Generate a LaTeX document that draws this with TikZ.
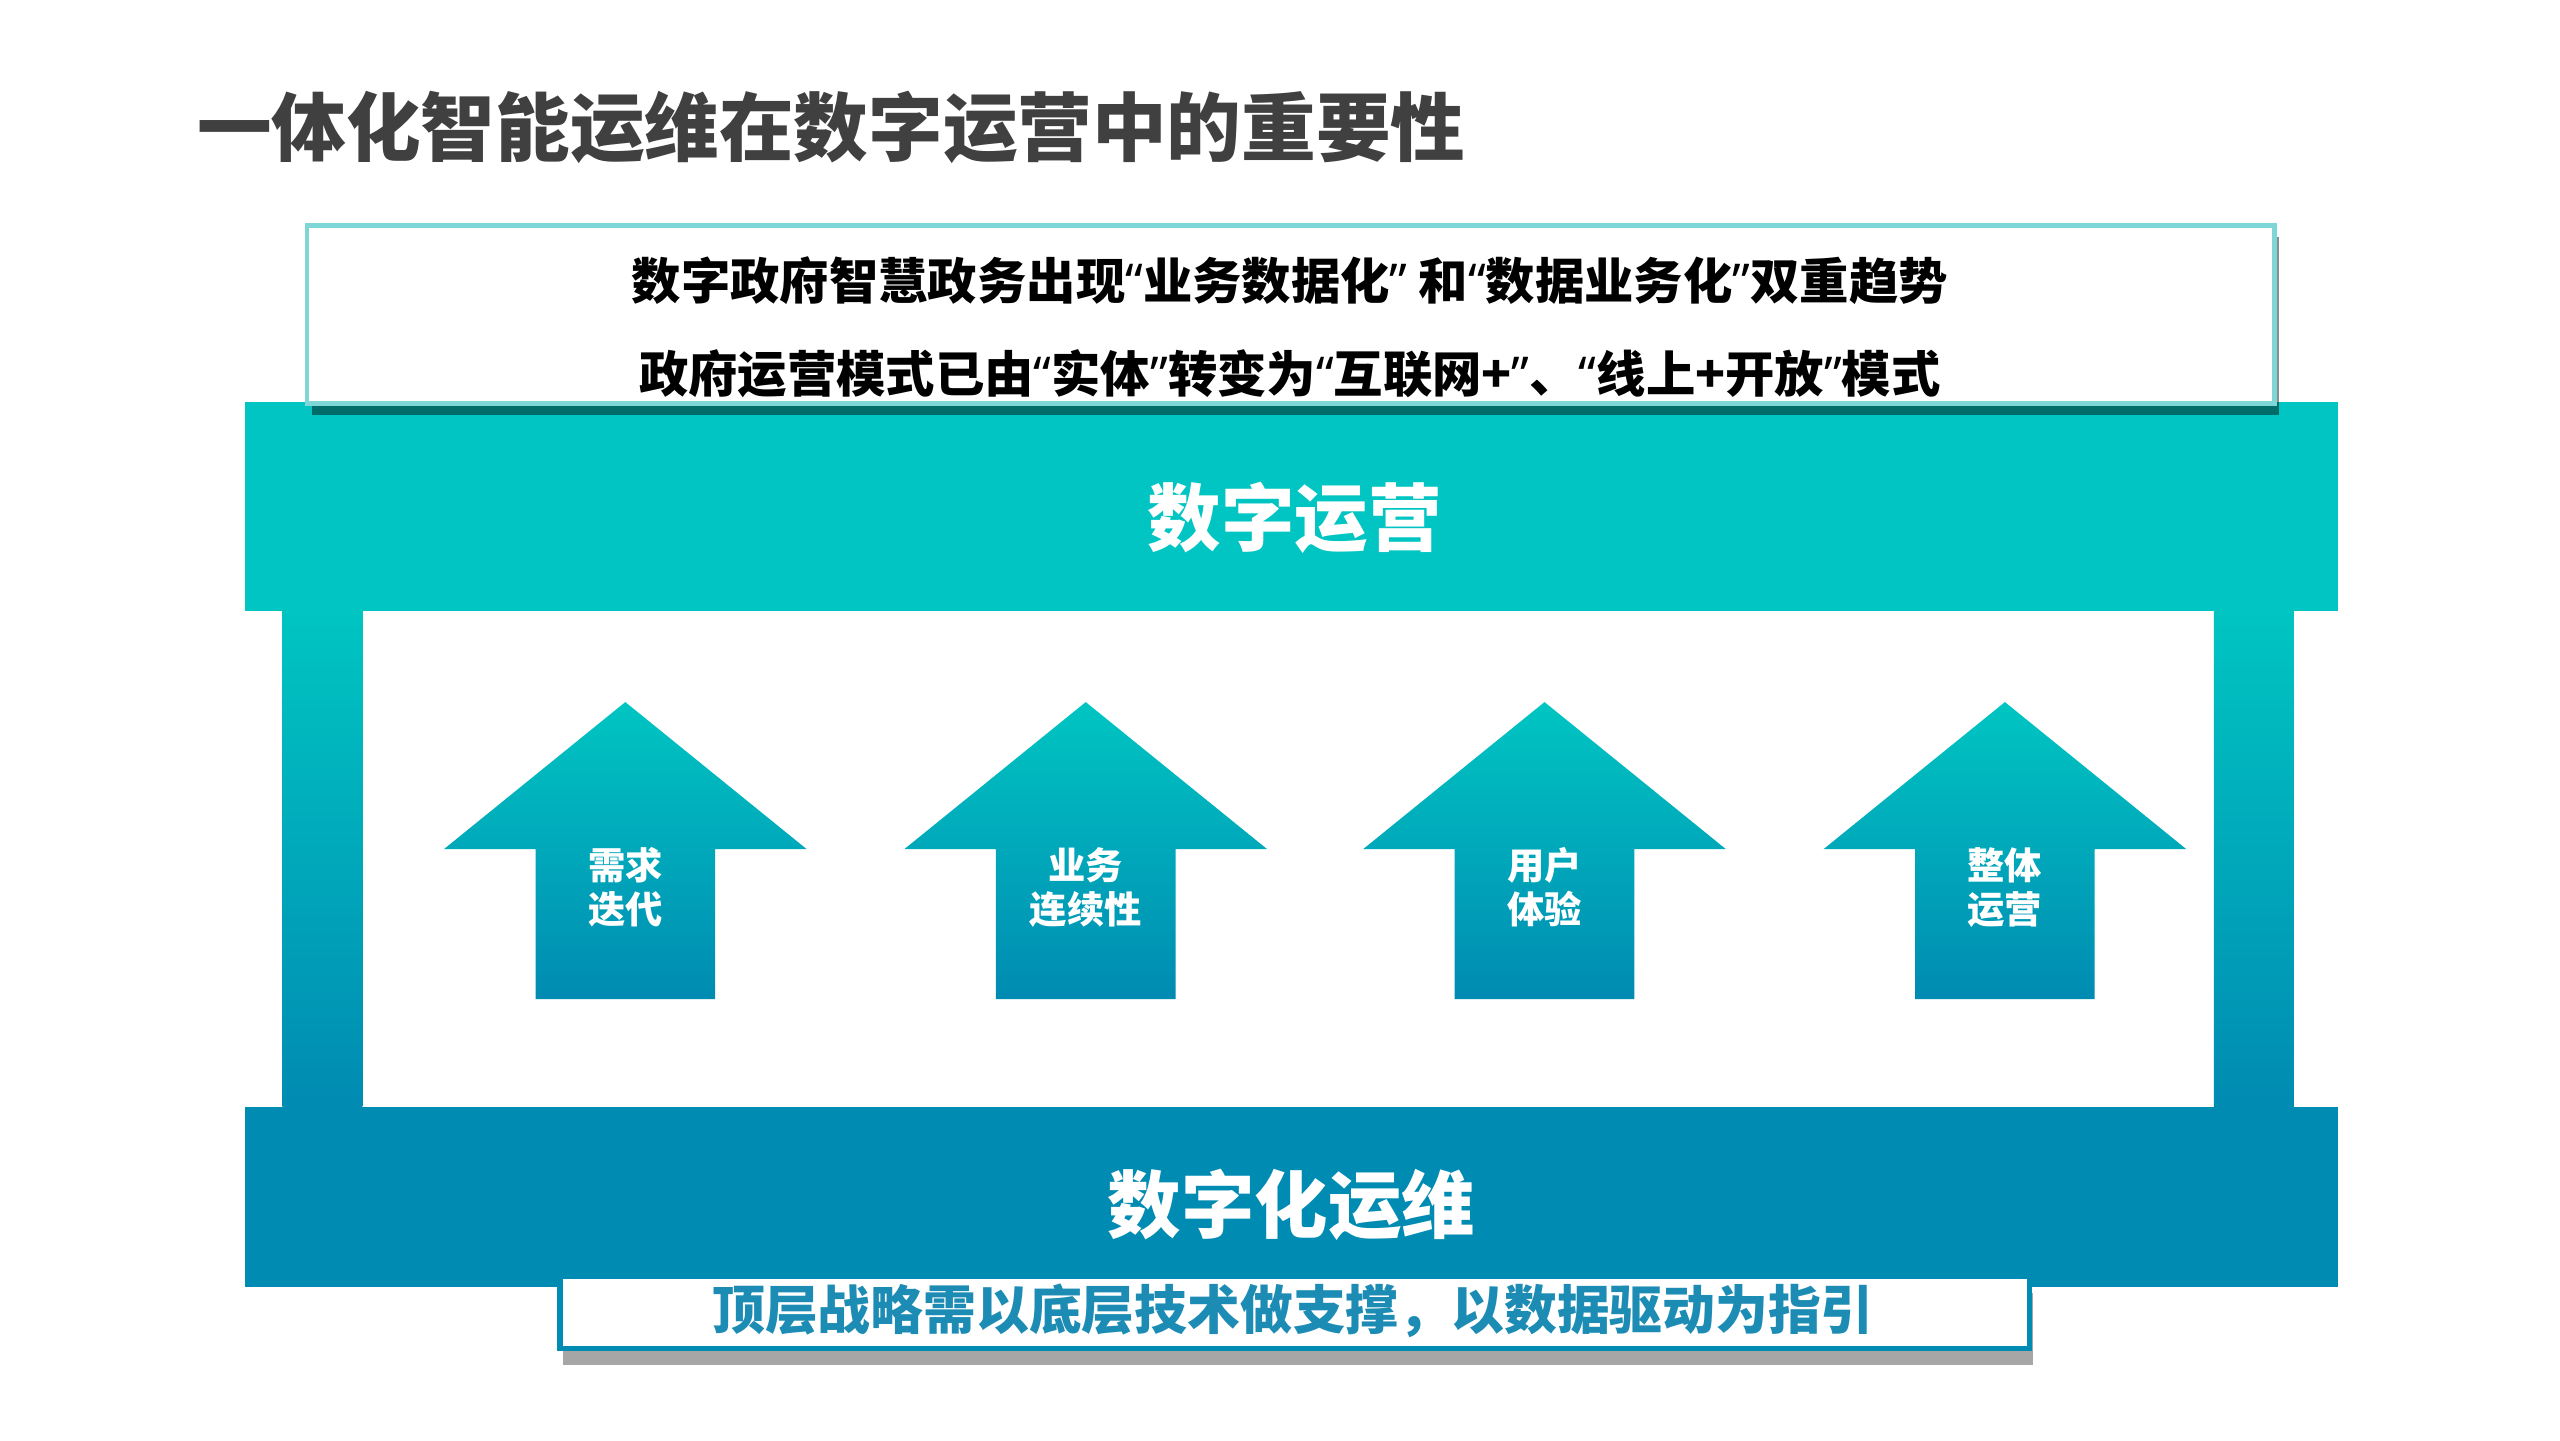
\documentclass[tikz,border=0pt]{standalone}
\usepackage{fontspec}
\setmainfont{Noto Sans CJK SC}
\newfontfamily\latinq{Noto Sans}
\newcommand{\oq}{{\latinq “}}
\newcommand{\cq}{{\latinq ”}}
\usepackage{tikz}
\usetikzlibrary{shadows}
\definecolor{tealtop}{HTML}{00C5C2}
\definecolor{tealbot}{HTML}{008BB2}
\definecolor{tealline}{HTML}{7ED6D6}
\definecolor{titlegray}{HTML}{404040}
\definecolor{guidetext}{HTML}{1C8CB4}

\begin{document}
\begin{tikzpicture}[every node/.style={inner sep=0pt, font=\bfseries}]
\tikzstyle{pillar}=[top color=tealtop, bottom color=tealbot]
\tikzstyle{upshape}=[top color=tealtop, bottom color=tealbot]
\tikzstyle{barlabel}=[text=white, font=\bfseries\fontsize{12.8}{14}\selectfont]
\tikzstyle{uplabel}=[text=white, align=center, font=\bfseries\fontsize{6.5}{7.7}\selectfont]
\tikzstyle{trendline}=[font=\bfseries\fontsize{8.6}{10}\selectfont]
\tikzstyle{trendbox}=[rectangle, fill=white, draw=tealline, line width=0.8pt, drop shadow={shadow xshift=0.03cm, shadow yshift=-0.07cm, fill=black, opacity=0.45}]
\tikzstyle{guidebox}=[rectangle, fill=white, draw=tealbot, line width=0.9pt, drop shadow={shadow xshift=0.02cm, shadow yshift=-0.10cm, fill=black, opacity=0.35}]
\useasboundingbox (0,0) rectangle (15.68,-8.82);

\node[anchor=west, text=titlegray, font=\bfseries\fontsize{13}{15}\selectfont] (title) at (1.20,-0.78) {一体化智能运维在数字运营中的重要性};

\fill[tealtop] (1.50,-2.46) rectangle (14.32,-3.74);
\shade[pillar] (1.73,-3.74) rectangle (2.22,-6.78);
\shade[pillar] (13.56,-3.74) rectangle (14.05,-6.78);
\fill[tealbot] (1.50,-6.78) rectangle (14.32,-7.88);

\node[barlabel] (ops) at (7.93,-3.17) {数字运营};
\node[barlabel] (maint) at (7.91,-7.38) {数字化运维};

\node[trendbox, minimum width=12.05cm, minimum height=1.09cm] (trend) at (7.905,-1.925) {};
\node[trendline] (trendA) at (7.90,-1.72) {数字政府智慧政务出现\oq 业务数据化\cq{} 和\oq 数据业务化\cq 双重趋势};
\node[trendline] (trendB) at (7.90,-2.29) {政府运营模式已由\oq 实体\cq 转变为\oq 互联网+\cq 、\oq 线上+开放\cq 模式};

\shade[upshape] (3.83,-4.30) -- (4.94,-5.20) -- (4.38,-5.20) -- (4.38,-6.12) -- (3.28,-6.12) -- (3.28,-5.20) -- (2.72,-5.20) -- cycle;
\shade[upshape] (6.65,-4.30) -- (7.76,-5.20) -- (7.20,-5.20) -- (7.20,-6.12) -- (6.10,-6.12) -- (6.10,-5.20) -- (5.54,-5.20) -- cycle;
\shade[upshape] (9.46,-4.30) -- (10.57,-5.20) -- (10.01,-5.20) -- (10.01,-6.12) -- (8.91,-6.12) -- (8.91,-5.20) -- (8.35,-5.20) -- cycle;
\shade[upshape] (12.28,-4.30) -- (13.39,-5.20) -- (12.83,-5.20) -- (12.83,-6.12) -- (11.73,-6.12) -- (11.73,-5.20) -- (11.17,-5.20) -- cycle;
\node[uplabel] (demand) at (3.83,-5.435) {需求\\迭代};
\node[uplabel] (business) at (6.65,-5.435) {业务\\连续性};
\node[uplabel] (user) at (9.46,-5.435) {用户\\体验};
\node[uplabel] (whole) at (12.28,-5.435) {整体\\运营};

\node[guidebox, minimum width=9.00cm, minimum height=0.44cm] (guide) at (7.93,-8.04) {};
\node[text=guidetext, font=\bfseries\fontsize{9.2}{11}\selectfont] (guidetxt) at (7.92,-8.03) {顶层战略需以底层技术做支撑，以数据驱动为指引};
\end{tikzpicture}
\end{document}
